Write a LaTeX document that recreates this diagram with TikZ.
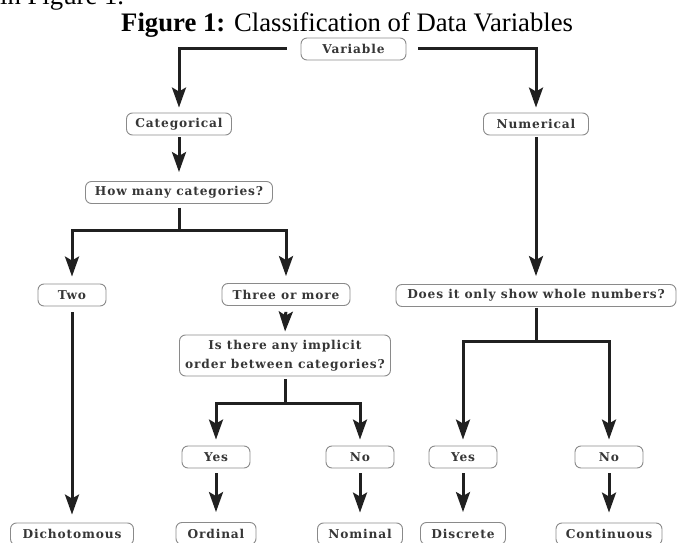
\documentclass[tikz,border=0pt]{standalone}
\usepackage{fontspec}
\setmainfont{Liberation Serif}
\newfontfamily\boxfont{DejaVu Serif}[LetterSpace=7]
\usepackage{tikz}
\usetikzlibrary{arrows.meta}
\definecolor{boxline}{HTML}{8A8A8A}
\definecolor{boxtext}{HTML}{363636}
\definecolor{arrline}{HTML}{202020}

\begin{document}
\begin{tikzpicture}[x=1pt,y=-1pt,
	tbox/.style={draw=boxline, line width=0.9pt, rounded corners=6pt, text=boxtext,
		font=\boxfont\bfseries\fontsize{12.2}{18.5}\selectfont, minimum height=22pt, inner xsep=3pt, inner ysep=0pt},
	arr/.style={draw=arrline, line width=3pt, -{Stealth[length=20pt,width=14pt,inset=4pt]}, shorten <=4pt, shorten >=6pt}]
		\def\drop{27}
		\useasboundingbox (0,0) rectangle (678,543);
		% titolo
		\node[anchor=base west, inner sep=0pt, font=\fontsize{26.7}{30}\selectfont] (prev) at (0,5) {in Figure 1.};
		\node[anchor=base west, inner sep=0pt, font=\fontsize{26.7}{30}\selectfont] (title) at (121,32) {\textbf{Figure 1:} Classification of Data Variables};
		% caselle
		\node[tbox, minimum width=105pt] (var) at (353.5,49) {Variable};
		\node[tbox, minimum width=105pt] (cat) at (179,124) {Categorical};
		\node[tbox, minimum width=105pt] (num) at (536,124) {Numerical};
		\node[tbox, minimum width=187pt] (how) at (179,192.5) {How many categories?};
		\node[tbox, minimum width=68pt] (two) at (72,295) {Two};
		\node[tbox, minimum width=128pt] (three) at (286,294.5) {Three or more};
		\node[tbox, minimum width=211pt, minimum height=41pt, align=center] (impl) at (285,355.5) {Is there any implicit\\order between categories?};
		\node[tbox, minimum width=280pt] (whole) at (536,295.5) {Does it only show whole numbers?};
		\node[tbox, minimum width=68pt] (yesA) at (216,457) {Yes};
		\node[tbox, minimum width=68pt] (noA) at (360,457) {No};
		\node[tbox, minimum width=68pt] (yesB) at (463,457) {Yes};
		\node[tbox, minimum width=68pt] (noB) at (609,457) {No};
		\node[tbox, minimum width=123pt] (dich) at (72,534) {Dichotomous};
		\node[tbox, minimum width=80pt] (ord) at (216,533.5) {Ordinal};
		\node[tbox, minimum width=85pt] (nom) at (360,534) {Nominal};
		\node[tbox, minimum width=85pt] (disc) at (463,533.5) {Discrete};
		\node[tbox, minimum width=106pt] (cont) at (609,534) {Continuous};
		% collegamento caselle
		\draw[arr, shorten <=14pt, shorten >=5pt] (var.west) -| (cat.north);
		\draw[arr, shorten <=12pt, shorten >=5pt] (var.east) -| (num.north);
		\draw[arr, shorten <=2pt, shorten >=9pt] (cat.south) -- (how.north);
		\draw[arr, shorten >=7pt] (how.south) -- ++(0,\drop) -| (two.north);
		\draw[arr, shorten >=7pt] (how.south) -- ++(0,\drop) -| (three.north);
		\draw[arr, shorten <=6pt, shorten >=3pt] (three.south) -- (impl.north);
		\draw[arr, shorten <=6pt, shorten >=8pt] (two.south) -- (dich.north);
		\draw[arr, shorten <=3pt] (impl.south) -- ++(0,\drop) -| (yesA.north);
		\draw[arr, shorten <=3pt] (impl.south) -- ++(0,\drop) -| (noA.north);
		\draw[arr, shorten <=5pt, shorten >=10pt] (yesA.south) -- (ord.north);
		\draw[arr, shorten <=5pt, shorten >=10pt] (noA.south) -- (nom.north);
		\draw[arr, shorten <=2pt, shorten >=8pt] (num.south) -- (whole.north);
		\draw[arr, shorten <=1pt] (whole.south) -- ++(0,35) -| (yesB.north);
		\draw[arr, shorten <=1pt] (whole.south) -- ++(0,35) -| (noB.north);
		\draw[arr, shorten <=5pt, shorten >=10pt] (yesB.south) -- (disc.north);
		\draw[arr, shorten <=5pt, shorten >=10pt] (noB.south) -- (cont.north);
	\end{tikzpicture}
\end{document}
